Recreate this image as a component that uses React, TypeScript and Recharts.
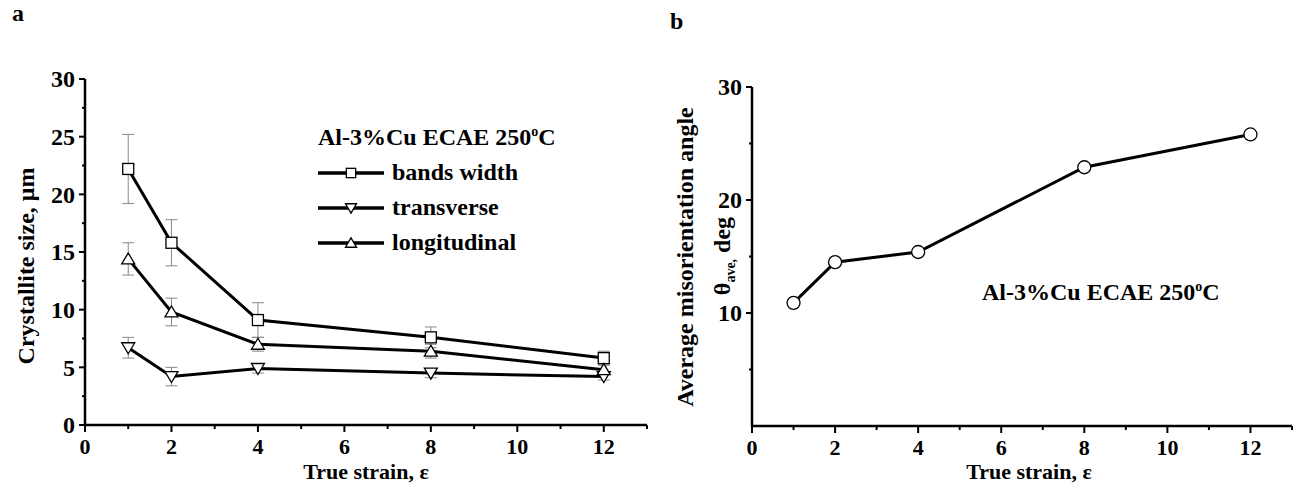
import React from 'react';
import { LineChart, Line, XAxis, YAxis, ErrorBar, Legend, Label } from 'recharts';

const FONT = "'Liberation Serif', 'Times New Roman', serif";

// true strain values shared by both panels
const strain = [1, 2, 4, 8, 12];

// panel a: crystallite size, um
const bandsWidth = [22.2, 15.8, 9.1, 7.6, 5.8];
const bandsWidthErr = [3.0, 2.0, 1.5, 0.9, 0.6];
const transverse = [6.7, 4.2, 4.9, 4.5, 4.2];
const transverseErr = [0.9, 0.8, 0.4, 0.4, 0.3];
const longitudinal = [14.4, 9.8, 7.0, 6.4, 4.8];
const longitudinalErr = [1.4, 1.2, 0.6, 0.6, 0.4];

// panel b: average misorientation angle, deg
const misorientation = [10.9, 14.5, 15.4, 22.9, 25.8];

const xMajor = [0, 2, 4, 6, 8, 10, 12];
const xMinor = [1, 3, 5, 7, 9, 11, 13];
const yMajorA = [0, 5, 10, 15, 20, 25, 30];
const yMinorA = [2.5, 7.5, 12.5, 17.5, 22.5, 27.5];
const yMajorB = [10, 20, 30];
const yMinorB = [5, 15, 25];

const legendOrder = ['bands', 'trans', 'longi'];

const crystalliteData = strain.map((s, i) => ({
  strain: s,
  bands: bandsWidth[i],
  bandsErr: bandsWidthErr[i],
  trans: transverse[i],
  transErr: transverseErr[i],
  longi: longitudinal[i],
  longiErr: longitudinalErr[i],
}));

const angleData = strain.map((s, i) => ({ strain: s, angle: misorientation[i] }));

const shapes: Record<string, string> = { bands: 'square', trans: 'down', longi: 'up' };

function Marker({ shape, cx, cy, s = 1 }: { shape: string; cx: number; cy: number; s?: number }) {
  const common = { fill: '#fff', stroke: '#000', strokeWidth: 1.3 };
  if (shape === 'square') {
    return <rect x={cx - 5.5 * s} y={cy - 5.5 * s} width={11 * s} height={11 * s} {...common} />;
  }
  if (shape === 'down') {
    return <polygon points={`${cx - 6.5 * s},${cy - 5 * s} ${cx + 6.5 * s},${cy - 5 * s} ${cx},${cy + 6 * s}`} {...common} />;
  }
  if (shape === 'up') {
    return <polygon points={`${cx - 6.5 * s},${cy + 5 * s} ${cx + 6.5 * s},${cy + 5 * s} ${cx},${cy - 6 * s}`} {...common} />;
  }
  return <circle cx={cx} cy={cy} r={6.5 * s} {...common} />;
}

const dotOf = (shape: string) => (p: any) => <Marker key={p.index} shape={shape} cx={p.cx} cy={p.cy} />;

const makeXTick = (majors: number[]) => (props: any) => {
  const { x, y, payload } = props;
  const major = majors.includes(payload.value);
  return (
    <g>
      <line x1={x} x2={x} y1={y} y2={y + (major ? 7 : 4)} stroke="#000" strokeWidth={2} />
      {major && (
        <text x={x} y={y + 29} textAnchor="middle" fontFamily={FONT} fontWeight="bold" fontSize={22} fill="#000">
          {payload.value}
        </text>
      )}
    </g>
  );
};

const makeYTick = (majors: number[]) => (props: any) => {
  const { x, y, payload } = props;
  const major = majors.includes(payload.value);
  return (
    <g>
      <line x1={x - (major ? 6 : 3)} x2={x} y1={y} y2={y} stroke="#000" strokeWidth={2} />
      {major && (
        <text x={x - 10} y={y} dy="0.35em" textAnchor="end" fontFamily={FONT} fontWeight="bold" fontSize={24} fill="#000">
          {payload.value}
        </text>
      )}
    </g>
  );
};

const textStyle = { fontFamily: FONT, fontWeight: 'bold' as const, fontSize: 24, fill: '#000' };

const Degree = () => <span style={{ fontSize: 14, position: 'relative', top: -9 }}>o</span>;

const renderLegend = (props: any) => {
  const items = [...(props.payload || [])].sort(
    (a: any, b: any) => legendOrder.indexOf(a.dataKey) - legendOrder.indexOf(b.dataKey),
  );
  return (
    <div style={{ fontFamily: FONT, fontWeight: 'bold', fontSize: 24, color: '#000' }}>
      <div style={{ height: 35, lineHeight: '35px', whiteSpace: 'nowrap' }}>
        Al-3%Cu ECAE 250<Degree />C
      </div>
      {items.map((entry: any) => (
        <div key={entry.value} style={{ display: 'flex', alignItems: 'center', height: 35, whiteSpace: 'nowrap' }}>
          <svg width={68} height={20}>
            <line x1={0} x2={66} y1={10} y2={10} stroke="#000" strokeWidth={3.5} />
            <Marker shape={shapes[entry.dataKey]} cx={33} cy={10} s={0.85} />
          </svg>
          <span style={{ marginLeft: 6, lineHeight: '35px' }}>{entry.value}</span>
        </div>
      ))}
    </div>
  );
};

const axisLine = { stroke: '#000', strokeWidth: 2.5 };

export default function App() {
  return (
    <div style={{ position: 'absolute', left: 0, top: 0, width: 1297, height: 484, background: '#fff' }}>
      <div style={{ position: 'absolute', left: 0, top: 0 }}>
        <LineChart width={660} height={484} data={crystalliteData} margin={{ top: 79, right: 13, bottom: 0, left: 0 }}>
          <XAxis
            dataKey="strain"
            type="number"
            domain={[0, 13]}
            ticks={[...xMajor, ...xMinor].sort((a, b) => a - b)}
            interval={0}
            height={59}
            tickSize={0}
            tickMargin={0}
            tickLine={false}
            axisLine={axisLine}
            tick={makeXTick(xMajor)}
          >
            <Label
              content={() => (
                <text x={366} y={479} textAnchor="middle" {...textStyle} fontSize={22}>
                  True strain, ε
                </text>
              )}
            />
          </XAxis>
          <YAxis
            type="number"
            domain={[0, 30]}
            ticks={[...yMajorA, ...yMinorA].sort((a, b) => a - b)}
            interval={0}
            width={85}
            tickSize={0}
            tickMargin={0}
            tickLine={false}
            axisLine={axisLine}
            tick={makeYTick(yMajorA)}
          >
            <Label
              content={() => (
                <text transform="translate(26, 266) rotate(-90)" textAnchor="middle" dy="0.35em" {...textStyle}>
                  Crystallite size, μm
                </text>
              )}
            />
          </YAxis>
          <Legend
            layout="vertical"
            align="center"
            verticalAlign="middle"
            wrapperStyle={{ left: 318, top: 120, width: 'auto', height: 'auto' }}
            content={renderLegend}
          />
          <Line dataKey="bands" name="bands width" stroke="#000" strokeWidth={3} dot={dotOf('square')} isAnimationActive={false}>
            <ErrorBar dataKey="bandsErr" width={6} stroke="#888" strokeWidth={1} direction="y" />
          </Line>
          <Line dataKey="trans" name="transverse" stroke="#000" strokeWidth={3} dot={dotOf('down')} isAnimationActive={false}>
            <ErrorBar dataKey="transErr" width={6} stroke="#888" strokeWidth={1} direction="y" />
          </Line>
          <Line dataKey="longi" name="longitudinal" stroke="#000" strokeWidth={3} dot={dotOf('up')} isAnimationActive={false}>
            <ErrorBar dataKey="longiErr" width={6} stroke="#888" strokeWidth={1} direction="y" />
          </Line>
        </LineChart>
      </div>

      <div style={{ position: 'absolute', left: 660, top: 0 }}>
        <LineChart width={637} height={484} data={angleData} margin={{ top: 87, right: 5, bottom: 0, left: 0 }}>
          <XAxis
            dataKey="strain"
            type="number"
            domain={[0, 13]}
            ticks={[...xMajor, ...xMinor].sort((a, b) => a - b)}
            interval={0}
            height={58}
            tickSize={0}
            tickMargin={0}
            tickLine={false}
            axisLine={axisLine}
            tick={makeXTick(xMajor)}
          >
            <Label
              content={() => (
                <text x={369} y={479} textAnchor="middle" {...textStyle} fontSize={22}>
                  True strain, ε
                </text>
              )}
            />
          </XAxis>
          <YAxis
            type="number"
            domain={[0, 30]}
            ticks={[...yMajorB, ...yMinorB].sort((a, b) => a - b)}
            interval={0}
            width={92}
            tickSize={0}
            tickMargin={0}
            tickLine={false}
            axisLine={axisLine}
            tick={makeYTick(yMajorB)}
          >
            <Label
              content={() => (
                <g>
                  <text transform="translate(25, 257) rotate(-90)" textAnchor="middle" dy="0.35em" {...textStyle}>
                    Average misorientation angle
                  </text>
                  <text transform="translate(62, 256) rotate(-90)" textAnchor="middle" dy="0.35em" {...textStyle}>
                    θ
                    <tspan fontSize={14} dy={5}>ave,</tspan>
                    <tspan dy={-5}> deg</tspan>
                  </text>
                </g>
              )}
            />
          </YAxis>
          <Line dataKey="angle" name="misorientation" stroke="#000" strokeWidth={3} dot={dotOf('circle')} isAnimationActive={false} />
        </LineChart>
      </div>

      <div style={{ position: 'absolute', left: 12, top: 1, fontFamily: FONT, fontWeight: 'bold', fontSize: 24, lineHeight: '24px' }}>a</div>
      <div style={{ position: 'absolute', left: 670, top: 9, fontFamily: FONT, fontWeight: 'bold', fontSize: 24, lineHeight: '24px' }}>b</div>
      <div
        style={{
          position: 'absolute',
          left: 982,
          top: 280,
          fontFamily: FONT,
          fontWeight: 'bold',
          fontSize: 24,
          lineHeight: '24px',
          whiteSpace: 'nowrap',
        }}
      >
        Al-3%Cu ECAE 250<Degree />C
      </div>
    </div>
  );
}
